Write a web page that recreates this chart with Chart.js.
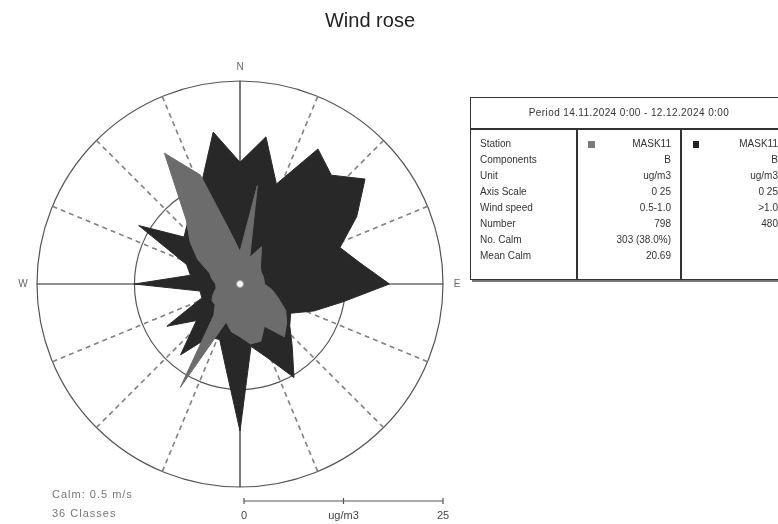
<!DOCTYPE html>
<html><head><meta charset="utf-8">
<script src="https://cdn.jsdelivr.net/npm/chart.js@4.4.0/dist/chart.umd.min.js"></script>
<style>
html,body{margin:0;padding:0;width:778px;height:524px;overflow:hidden;background:#fff;font-family:"Liberation Sans",Arial,sans-serif;}
#c{position:absolute;left:0;top:0;}
#title{position:absolute;left:0;width:740px;top:8px;text-align:center;font-size:20px;line-height:24px;color:#222;}
#tbl{position:absolute;left:470px;top:97px;width:316px;height:181px;border:1px solid #333;box-shadow:2px 2px 0 #777;font-size:10px;color:#333;background:#fff;}
#hdr{position:absolute;left:0;top:0;width:316px;height:30px;border-bottom:2px solid #333;line-height:30px;text-align:center;letter-spacing:0.4px;}
.col{position:absolute;top:38px;bottom:0;}
.row{height:16px;line-height:16px;white-space:nowrap;}
.sep{position:absolute;top:32px;bottom:0;width:2px;background:#333;}
.sq{position:absolute;width:7px;height:7px;top:5px;}
#foot{position:absolute;left:52px;top:485px;font-size:11px;color:#777;letter-spacing:1px;line-height:19px;}
</style></head>
<body>
<canvas id="c" width="778" height="524"></canvas>
<div id="title">Wind rose</div>
<div id="tbl"><div id="hdr"></div>
<div class="col" id="colL" style="left:9px;width:95px;"></div>
<div class="sep" style="left:105px"></div>
<div class="col" id="col1" style="left:108px;width:92px;text-align:right;"></div>
<div class="sep" style="left:209px"></div>
<div class="col" id="col2" style="left:212px;width:95px;text-align:right;"></div>
</div>
<div id="foot"></div>
<script>
// ---- data ----
const directions = ['0','10','20','30','40','50','60','70','80','90','100','110','120','130','140','150','160','170',
  '180','190','200','210','220','230','240','250','260','270','280','290','300','310','320','330','340','350'];
const compassLabels = {0:'N', 9:'E', 27:'W'};
const series1Label = '0.5-1.0';   // grey
const series1 = [4,12.3,3.5,5.3,4,3.3,3,3,3,3,4,5,6.5,7.5,8.5,6,7.5,7.5,6.5,6,5,14.7,5,4,4,3.5,3,3,3.5,4,6,8,10.3,18.6,14.3,6.3];
const series2Label = '>1.0';      // black
const series2 = [15,18.4,13.1,19.2,17.5,20.1,16.6,13.1,15,18.4,12.8,9.7,7.2,8,10,13.3,9.6,7.8,18.1,10.3,7.3,7.5,11.4,7,10.4,5,5,13,6.2,7,14.4,9,10,11,13.6,19];
const axisTicks = [0, 13, 25];
const axisMax = 25;
const periodText = 'Period 14.11.2024 0:00 - 12.12.2024 0:00';
const rowLabels = ['Station','Components','Unit','Axis Scale','Wind speed','Number','No. Calm','Mean Calm'];
const col1Values = ['MASK11','B','ug/m3','0 25','0.5-1.0','798','303 (38.0%)','20.69'];
const col2Values = ['MASK11','B','ug/m3','0 25','>1.0','480','',''];
const footLines = ['Calm: 0.5 m/s','36 Classes'];
const scaleBarLabels = ['0','ug/m3','25'];

// ---- table ----
document.getElementById('hdr').textContent = periodText;
const fill = (id, arr) => { const el = document.getElementById(id); arr.forEach(t => { const d = document.createElement('div'); d.className='row'; d.textContent = t || '\u00a0'; el.appendChild(d); }); };
fill('colL', rowLabels); fill('col1', col1Values); fill('col2', col2Values);
const s1 = document.createElement('div'); s1.className='sq'; s1.style.cssText='left:9px;background:#7a7a7a'; document.getElementById('col1').appendChild(s1);
const s2 = document.createElement('div'); s2.className='sq'; s2.style.cssText='left:10px;width:6px;background:#222'; document.getElementById('col2').appendChild(s2);
document.getElementById('foot').innerHTML = footLines.join('<br>');

// ---- plugin for spokes, labels, scale bar ----
const rosePlugin = {
  id: 'rose',
  beforeDatasetsDraw(chart) {
    const s = chart.scales.r, ctx = chart.ctx;
    const R = s.getDistanceFromCenterForValue(axisMax);
    ctx.save();
    for (let i = 0; i < 16; i++) {
      const a = i * Math.PI / 8;
      const x = s.xCenter + Math.sin(a) * R, y = s.yCenter - Math.cos(a) * R;
      ctx.beginPath();
      if (i % 4 === 0) { ctx.setLineDash([]); ctx.strokeStyle = '#222'; ctx.lineWidth = 1.2; }
      else { ctx.setLineDash([5, 4]); ctx.strokeStyle = '#808080'; ctx.lineWidth = 1.6; }
      ctx.moveTo(s.xCenter, s.yCenter); ctx.lineTo(x, y); ctx.stroke();
    }
    ctx.restore();
  },
  afterDatasetsDraw(chart) {
    const s = chart.scales.r, ctx = chart.ctx;
    const R = s.getDistanceFromCenterForValue(axisMax);
    ctx.save();
    ctx.beginPath(); ctx.arc(s.xCenter, s.yCenter, 3.5, 0, Math.PI * 2);
    ctx.fillStyle = '#fff'; ctx.fill(); ctx.strokeStyle = '#999'; ctx.lineWidth = 1; ctx.stroke();
    ctx.fillStyle = '#666'; ctx.font = '10px "Liberation Sans", Arial, sans-serif';
    ctx.textAlign = 'center'; ctx.textBaseline = 'middle';
    Object.keys(compassLabels).forEach(k => {
      const a = (+k) * 2 * Math.PI / directions.length;
      const d = R + 14;
      ctx.fillText(compassLabels[k], s.xCenter + Math.sin(a) * d, s.yCenter - Math.cos(a) * d);
    });
    // scale bar
    const y = s.yCenter + R + 14;
    const x0 = s.xCenter + 4, x1 = s.xCenter + R;
    ctx.strokeStyle = '#555'; ctx.lineWidth = 1.2;
    ctx.beginPath(); ctx.moveTo(x0, y); ctx.lineTo(x1, y);
    [x0, (x0 + x1) / 2, x1].forEach(x => { ctx.moveTo(x, y - 3); ctx.lineTo(x, y + 3); });
    ctx.stroke();
    ctx.fillStyle = '#444'; ctx.font = '11px "Liberation Sans", Arial, sans-serif';
    ctx.fillText(scaleBarLabels[0], x0, y + 15);
    ctx.fillText(scaleBarLabels[1], (x0 + x1) / 2, y + 15);
    ctx.fillText(scaleBarLabels[2], x1, y + 15);
    ctx.restore();
  }
};

new Chart(document.getElementById('c'), {
  type: 'radar',
  data: {
    labels: directions,
    datasets: [
      { label: series1Label, data: series1, backgroundColor: '#6c6c6c', borderColor: '#6c6c6c', borderWidth: 1, pointRadius: 0, fill: 'origin', tension: 0 },
      { label: series2Label, data: series2, backgroundColor: '#282828', borderColor: '#282828', borderWidth: 1, pointRadius: 0, fill: 'origin', tension: 0 }
    ]
  },
  options: {
    responsive: false, animation: false, devicePixelRatio: 1,
    layout: { padding: { left: 37, right: 335, top: 81, bottom: 37 } },
    plugins: { legend: { display: false }, tooltip: { enabled: false }, title: { display: false } },
    scales: {
      r: {
        min: 0, max: axisMax,
        afterBuildTicks: sc => { sc.ticks = axisTicks.map(v => ({ value: v })); },
        ticks: { display: false },
        pointLabels: { display: false },
        angleLines: { display: false },
        grid: { circular: true, color: '#555', lineWidth: 1.2 }
      }
    }
  },
  plugins: [rosePlugin]
});
</script>
</body></html>
